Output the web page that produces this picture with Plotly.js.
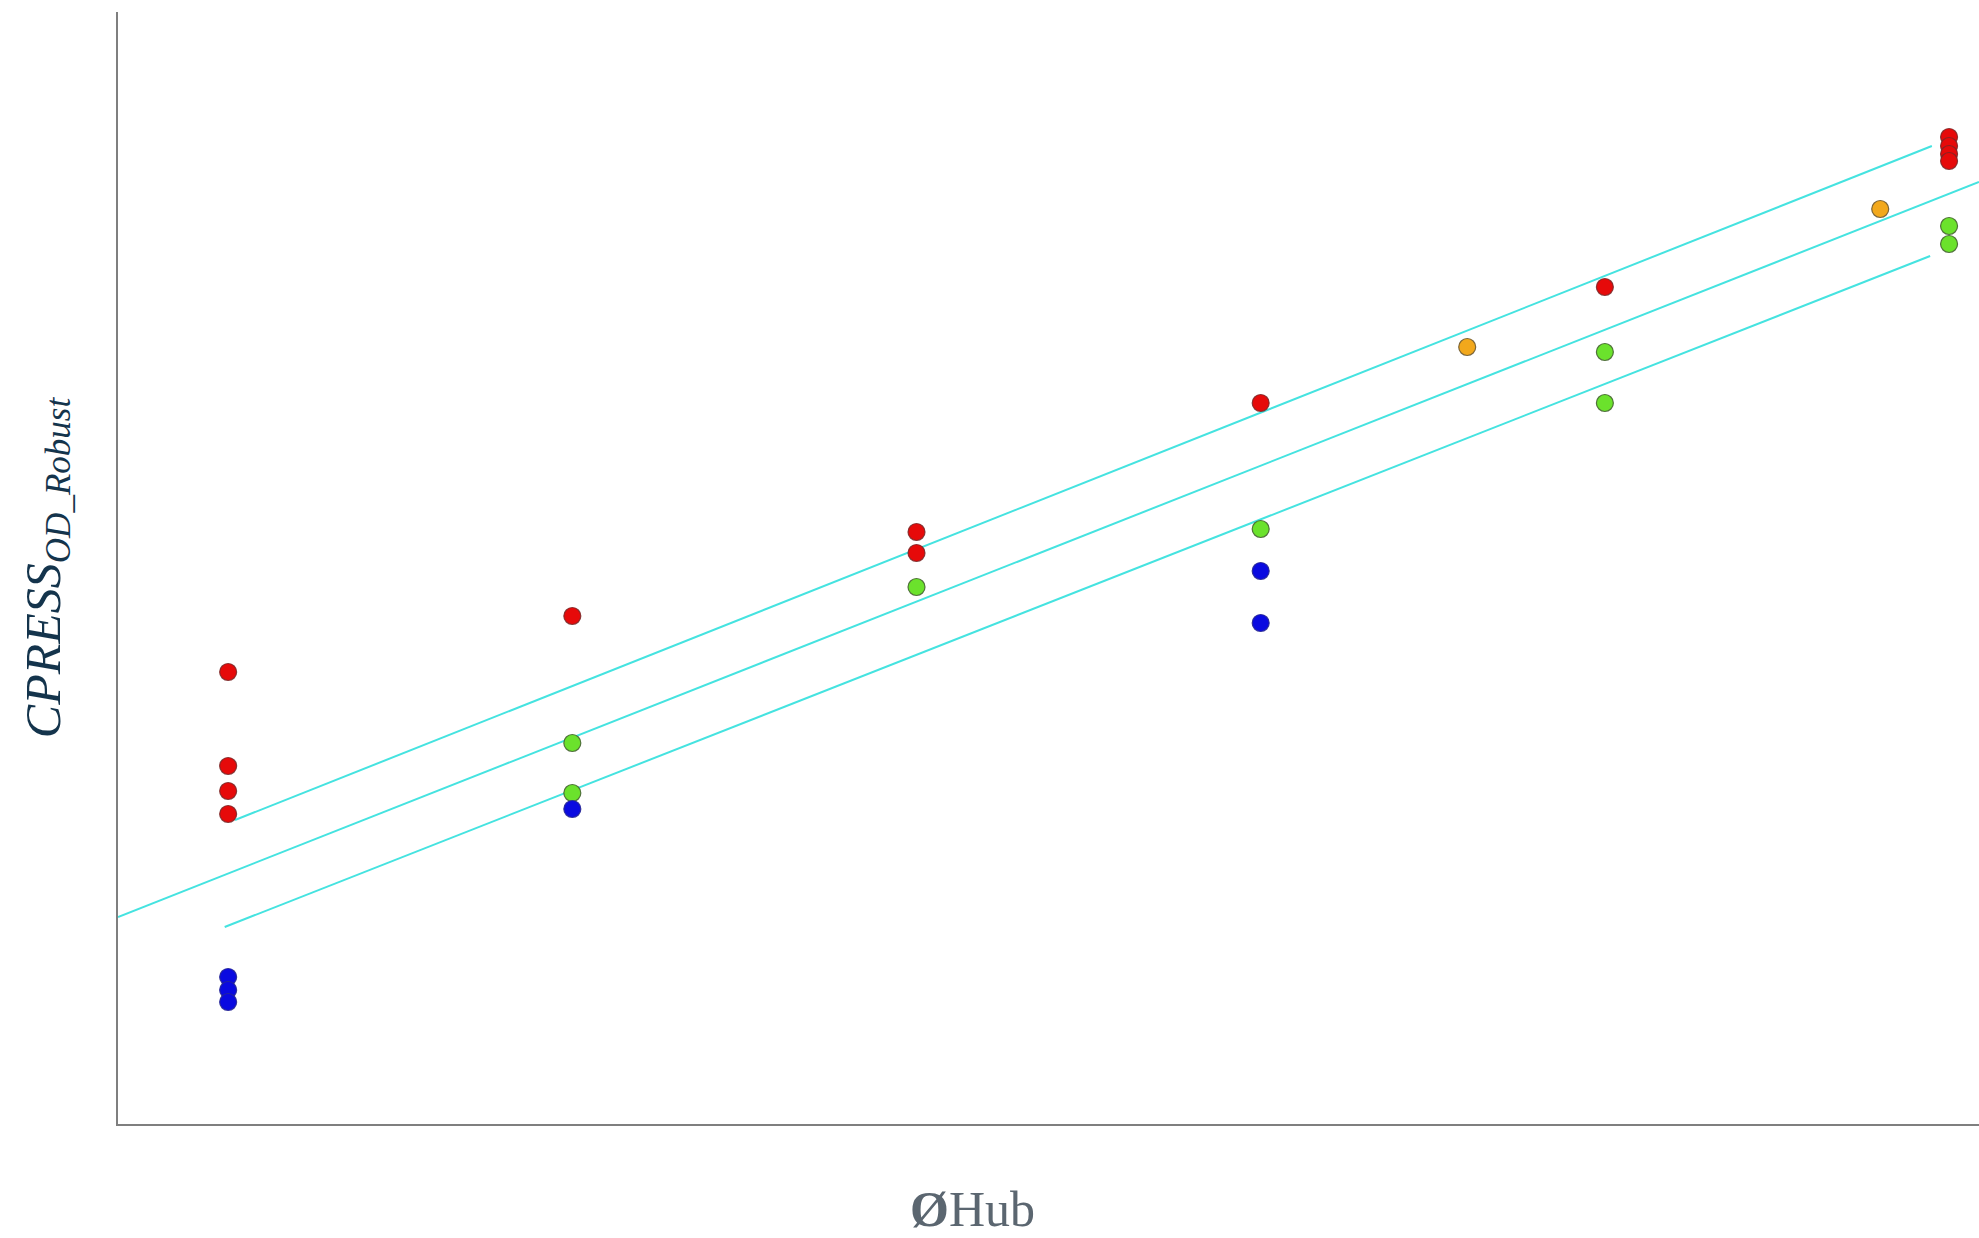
<!DOCTYPE html>
<html>
<head>
<meta charset="utf-8">
<script src="https://cdn.plot.ly/plotly-3.0.1.min.js"></script>
<style>
  html, body { margin: 0; padding: 0; background: #ffffff; }
  #chart { width: 1979px; height: 1238px; }
</style>
</head>
<body>
<div id="chart"></div>
<script>
// Hub diameter positions (relative units) and CPRESS values per group
const redX    = [1, 1, 1, 1, 2, 3, 3, 4, 5, 6, 6, 6, 6];
const redY    = [4.52, 3.58, 3.33, 3.10, 5.08, 5.92, 5.71, 7.21, 8.37, 9.87, 9.78, 9.70, 9.63];

const greenX  = [2, 2, 3, 4, 5, 5, 6, 6];
const greenY  = [3.81, 3.31, 5.37, 5.95, 7.72, 7.21, 8.98, 8.80];

const blueX   = [1, 1, 1, 2, 4, 4];
const blueY   = [1.47, 1.34, 1.22, 3.15, 5.53, 5.01];

const orangeX = [4.6, 5.8];
const orangeY = [7.77, 9.15];

// Fitted trend and its upper / lower bands
const fitX    = [0.68, 6.087];
const fitY    = [2.07, 9.42];
const upperX  = [1.02, 5.95];
const upperY  = [3.04, 9.78];
const lowerX  = [0.99, 5.945];
const lowerY  = [1.97, 8.68];

const xTitle = '<b>Ø</b>Hub';
const yTitle = '<i>CPRESS<sub>OD_Robust</sub></i>';

const lineStyle = { color: '#45E3E0', width: 2 };

function pts(x, y, fill, edge) {
  return {
    x: x, y: y, type: 'scatter', mode: 'markers', showlegend: false,
    hoverinfo: 'skip',
    marker: { size: 17, color: fill, line: { color: edge, width: 1.2 } }
  };
}
function band(x, y) {
  return { x: x, y: y, type: 'scatter', mode: 'lines', showlegend: false,
           hoverinfo: 'skip', line: lineStyle };
}

const data = [
  band(fitX, fitY),
  band(upperX, upperY),
  band(lowerX, lowerY),
  pts(redX, redY, '#E60A0A', 'rgba(120,40,40,0.85)'),
  pts(greenX, greenY, '#6BE22C', 'rgba(70,100,50,0.9)'),
  pts(blueX, blueY, '#0A0AE0', 'rgba(40,40,150,0.9)'),
  pts(orangeX, orangeY, '#F2A81C', 'rgba(110,90,50,0.9)')
];

const layout = {
  width: 1979, height: 1238,
  paper_bgcolor: '#ffffff', plot_bgcolor: '#ffffff',
  margin: { l: 118, r: 0, t: 12, b: 114 },
  xaxis: {
    range: [0.68, 6.087],
    showgrid: false, zeroline: false, showticklabels: false, ticks: '',
    showline: true, linecolor: '#7f7f7f', linewidth: 2
  },
  yaxis: {
    range: [0, 11.12],
    showgrid: false, zeroline: false, showticklabels: false, ticks: '',
    showline: true, linecolor: '#7f7f7f', linewidth: 2,
    title: {
      text: yTitle,
      font: { family: 'Liberation Serif, DejaVu Serif, serif', size: 50, color: '#14344C' },
      standoff: 40
    }
  },
  annotations: [{
    text: xTitle,
    xref: 'paper', yref: 'paper',
    x: 0.459, y: -0.076, xanchor: 'center', yanchor: 'middle',
    showarrow: false,
    font: { family: 'Liberation Serif, DejaVu Serif, serif', size: 50, color: '#5B6670' }
  }]
};

Plotly.newPlot('chart', data, layout, { displayModeBar: false, staticPlot: true });
</script>
</body>
</html>
